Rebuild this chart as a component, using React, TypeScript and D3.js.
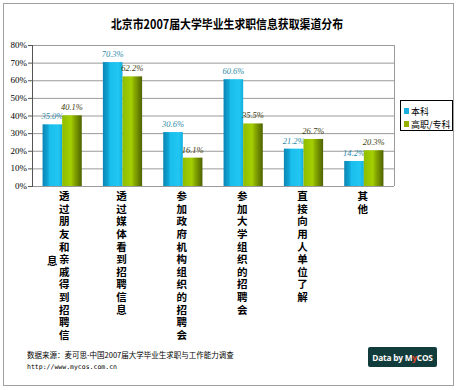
import { useEffect, useRef, useState } from "react";
import * as d3 from "d3";

// 北京市2007届大学毕业生求职信息获取渠道分布
const categories = [
  "透过朋友和亲戚得到招聘信息",
  "透过媒体看到招聘信息",
  "参加政府机构组织的招聘会",
  "参加大学组织的招聘会",
  "直接向用人单位了解",
  "其他",
];
const seriesNames = ["本科", "高职/专科"];
const benke = [35.0, 70.3, 30.6, 60.6, 21.2, 14.2];
const gaozhi = [40.1, 62.2, 16.1, 35.5, 26.7, 20.3];
const yTicks = [0, 10, 20, 30, 40, 50, 60, 70, 80];

const W = 460;
const H = 390;
const plot = { left: 32, top: 45, right: 394, bottom: 186 };
const CJK = "'Noto Sans CJK SC', sans-serif";
const LOGO = { x: 368, w: 69 };

export default function App() {
  const logoRef = useRef<SVGTextElement>(null);
  // x-range of the red "y" in the logo, measured after render
  const [yRange, setYRange] = useState<[number, number]>([421, 426]);

  useEffect(() => {
    document.body.style.margin = "0";
    const t = logoRef.current;
    if (t) {
      const s = t.getStartPositionOfChar(9).x;
      const e = t.getEndPositionOfChar(9).x;
      setYRange([s, e]);
    }
  }, []);

  const x = d3
    .scaleBand<string>()
    .domain(categories)
    .range([plot.left, plot.right])
    .paddingInner(0.35)
    .paddingOuter(0.175);
  const x1 = d3.scaleBand<string>().domain(seriesNames).range([0, x.bandwidth()]);
  const y = d3.scaleLinear().domain([0, 80]).range([plot.bottom, plot.top]);

  const series = [
    { name: seriesNames[0], values: benke, fill: "url(#gBlue)", label: "#2E8AA6", swatch: "#1AAEDF" },
    { name: seriesNames[1], values: gaozhi, fill: "url(#gGreen)", label: "#3E3E10", swatch: "#98B000" },
  ];

  // vertical labels: one char per row
  const fs = 10.5;
  const rowH = 12.6;
  const maxRows = 12;

  const o1 = (yRange[0] - LOGO.x) / LOGO.w;
  const o2 = (yRange[1] - LOGO.x) / LOGO.w;

  return (
    <svg width={W} height={H} style={{ display: "block", background: "#fff" }}>
      <defs>
        <linearGradient id="gBlue" x1="0" x2="1" y1="0" y2="0">
          <stop offset="0%" stopColor="#0B86B4" />
          <stop offset="28%" stopColor="#0FA6D6" />
          <stop offset="35%" stopColor="#19BEEC" />
          <stop offset="80%" stopColor="#22C6F2" />
          <stop offset="100%" stopColor="#12AEDD" />
        </linearGradient>
        <linearGradient id="gGreen" x1="0" x2="1" y1="0" y2="0">
          <stop offset="0%" stopColor="#8EBC00" />
          <stop offset="45%" stopColor="#A4CF02" />
          <stop offset="62%" stopColor="#86A800" />
          <stop offset="100%" stopColor="#4E6300" />
        </linearGradient>
        <linearGradient id="gLogo" gradientUnits="userSpaceOnUse" x1={LOGO.x} x2={LOGO.x + LOGO.w} y1={0} y2={0}>
          <stop offset={o1} stopColor="#fff" />
          <stop offset={o1} stopColor="#E8452C" />
          <stop offset={o2} stopColor="#E8452C" />
          <stop offset={o2} stopColor="#fff" />
        </linearGradient>
      </defs>

      {/* outer frame */}
      <rect x={3.5} y={3.5} width={450} height={382} fill="#fff" stroke="#A0A0A0" strokeWidth={1} />

      <text
        x={227}
        y={29}
        textAnchor="middle"
        fontFamily={CJK}
        fontWeight="bold"
        fontSize={12.5}
        fill="#000"
        textLength={232}
        lengthAdjust="spacingAndGlyphs"
      >
        北京市2007届大学毕业生求职信息获取渠道分布
      </text>

      {/* grid */}
      {yTicks.map((t) => (
        <g key={t}>
          <line x1={plot.left} x2={plot.right} y1={y(t) + 0.5} y2={y(t) + 0.5} stroke="#9A9A9A" strokeWidth={1} />
          <line x1={plot.left - 4} x2={plot.left} y1={y(t) + 0.5} y2={y(t) + 0.5} stroke="#555" />
          <text x={plot.left - 5} y={y(t) + 3} textAnchor="end" fontFamily="'Liberation Serif', serif" fontSize={9} fill="#000">
            {t}%
          </text>
        </g>
      ))}
      <line x1={plot.right + 0.5} x2={plot.right + 0.5} y1={plot.top} y2={plot.bottom} stroke="#9A9A9A" />
      <line x1={plot.left + 0.5} x2={plot.left + 0.5} y1={plot.top} y2={plot.bottom + 1} stroke="#555" />

      {/* bars */}
      {series.map((s) =>
        categories.map((c, i) => {
          const bx = (x(c) ?? 0) + (x1(s.name) ?? 0);
          const v = s.values[i];
          return (
            <g key={s.name + c}>
              <rect x={bx} y={y(v)} width={x1.bandwidth()} height={plot.bottom - y(v)} fill={s.fill} />
              <text
                x={bx + x1.bandwidth() / 2}
                y={y(v) - 5}
                textAnchor="middle"
                fontFamily="'Liberation Serif', serif"
                fontStyle="italic"
                fontSize={8.5}
                fill={s.label}
              >
                {v.toFixed(1)}%
              </text>
            </g>
          );
        })
      )}

      {/* vertical category labels */}
      {categories.map((c) => {
        const cx = (x(c) ?? 0) + x.bandwidth() / 2 - 1;
        const chars = Array.from(c);
        const shown = chars.slice(0, maxRows).join("");
        const extra = chars.slice(maxRows).join("");
        const shift = extra ? 3 : 0;
        return (
          <g key={c} fontFamily={CJK} fontWeight="bold" fontSize={fs} fill="#000">
            <text
              x={cx + shift}
              y={191}
              style={{ writingMode: "vertical-rl", textOrientation: "upright", letterSpacing: rowH - fs }}
            >
              {shown}
            </text>
            {extra && (
              <text x={cx - 9} y={265} textAnchor="middle">
                {extra}
              </text>
            )}
          </g>
        );
      })}

      {/* legend */}
      <rect x={400.5} y={100.5} width={52} height={30} fill="#fff" stroke="#000" />
      {series.map((s, i) => (
        <g key={s.name}>
          <rect x={404} y={108 + i * 13} width={5} height={6} fill={s.swatch} />
          <text x={411} y={115 + i * 13} fontFamily={CJK} fontSize={9} fill="#000">
            {s.name}
          </text>
        </g>
      ))}

      {/* footer */}
      <text x={27} y={358} fontFamily={CJK} fontSize={7.5} fill="#000">
        数据来源：麦可思-中国2007届大学毕业生求职与工作能力调查
      </text>
      <text x={27} y={369} fontFamily="'DejaVu Sans Mono', monospace" fontSize={6.5} fill="#000">
        http://www.mycos.com.cn
      </text>
      <rect x={LOGO.x} y={347} width={LOGO.w} height={20} rx={2} fill="#123C3C" />
      <text
        ref={logoRef}
        x={LOGO.x + LOGO.w / 2}
        y={360.5}
        textAnchor="middle"
        fontFamily="'Open Sans', sans-serif"
        fontWeight="bold"
        fontSize={8.3}
        letterSpacing={-0.2}
        fill="url(#gLogo)"
      >
        Data by MyCOS
      </text>
    </svg>
  );
}
